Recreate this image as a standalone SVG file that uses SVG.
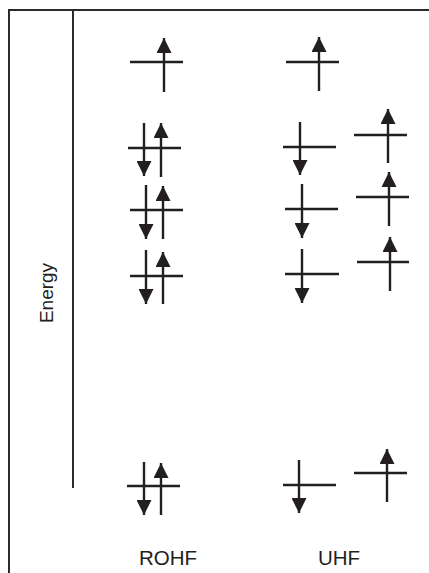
<svg xmlns="http://www.w3.org/2000/svg" width="429" height="573" viewBox="0 0 429 573">
<defs>
<style>
.ln{stroke:#231f20;stroke-width:2.4;fill:none}
.ar{stroke:#231f20;stroke-width:2.4;fill:none;marker-end:url(#head)}
.fr{stroke:#2b2b2b;stroke-width:2;fill:none}
.lbl{font-family:"Liberation Sans",Arial,sans-serif;fill:#231f20}
</style>
<marker id="head" viewBox="0 0 15 15" refX="15" refY="7.5" markerWidth="15" markerHeight="15" markerUnits="userSpaceOnUse" orient="auto">
<path d="M0,0 L15,7.5 L0,15 z" fill="#231f20"/>
</marker>
</defs>
<rect width="429" height="573" fill="#fff"/>
<g id="frame">
<line class="fr" x1="9" y1="10" x2="429" y2="10"/>
<line class="fr" x1="9" y1="9" x2="9" y2="573"/>
<line class="fr" x1="73" y1="10" x2="73" y2="488"/>
</g>
<g id="labels">
<text class="lbl" font-size="19" transform="translate(53,293) rotate(-90)" text-anchor="middle">Energy</text>
<text class="lbl" font-size="20.5" x="139" y="565">ROHF</text>
<text class="lbl" font-size="20.5" x="318" y="565">UHF</text>
</g>
<g id="rohf-1">
<line class="ln" x1="130" y1="62" x2="183" y2="62"/>
<line class="ar" x1="164" y1="92" x2="164" y2="38"/>
</g>
<g id="rohf-2">
<line class="ln" x1="128" y1="148" x2="181" y2="148"/>
<line class="ar" x1="144" y1="123" x2="144" y2="176"/>
<line class="ar" x1="161" y1="177" x2="161" y2="123"/>
</g>
<g id="rohf-3">
<line class="ln" x1="130" y1="210" x2="183" y2="210"/>
<line class="ar" x1="146" y1="185" x2="146" y2="239"/>
<line class="ar" x1="163" y1="239" x2="163" y2="186"/>
</g>
<g id="rohf-4">
<line class="ln" x1="130" y1="276" x2="183" y2="276"/>
<line class="ar" x1="146" y1="250" x2="146" y2="304"/>
<line class="ar" x1="163" y1="304" x2="163" y2="252"/>
</g>
<g id="rohf-5">
<line class="ln" x1="127" y1="486" x2="180" y2="486"/>
<line class="ar" x1="144" y1="462" x2="144" y2="515"/>
<line class="ar" x1="161" y1="515" x2="161" y2="463"/>
</g>
<g id="uhf-top">
<line class="ln" x1="286" y1="62" x2="339" y2="62"/>
<line class="ar" x1="319" y1="91" x2="319" y2="37"/>
</g>
<g id="uhf-alpha-1">
<line class="ln" x1="354" y1="135" x2="407" y2="135"/>
<line class="ar" x1="388" y1="163" x2="388" y2="109"/>
</g>
<g id="uhf-alpha-2">
<line class="ln" x1="356" y1="197" x2="409" y2="197"/>
<line class="ar" x1="389" y1="226" x2="389" y2="172"/>
</g>
<g id="uhf-alpha-3">
<line class="ln" x1="357" y1="262" x2="409" y2="262"/>
<line class="ar" x1="390" y1="291" x2="390" y2="237"/>
</g>
<g id="uhf-beta-1">
<line class="ln" x1="283" y1="147" x2="336" y2="147"/>
<line class="ar" x1="300" y1="122" x2="300" y2="175"/>
</g>
<g id="uhf-beta-2">
<line class="ln" x1="285" y1="209" x2="338" y2="209"/>
<line class="ar" x1="302" y1="184" x2="302" y2="238"/>
</g>
<g id="uhf-beta-3">
<line class="ln" x1="285" y1="274" x2="339" y2="274"/>
<line class="ar" x1="302" y1="249" x2="302" y2="303"/>
</g>
<g id="uhf-beta-core">
<line class="ln" x1="283" y1="485" x2="336" y2="485"/>
<line class="ar" x1="299" y1="460" x2="299" y2="513"/>
</g>
<g id="uhf-alpha-core">
<line class="ln" x1="354" y1="473" x2="407" y2="473"/>
<line class="ar" x1="387" y1="502" x2="387" y2="449"/>
</g>
<g id="connectors"></g>
</svg>
